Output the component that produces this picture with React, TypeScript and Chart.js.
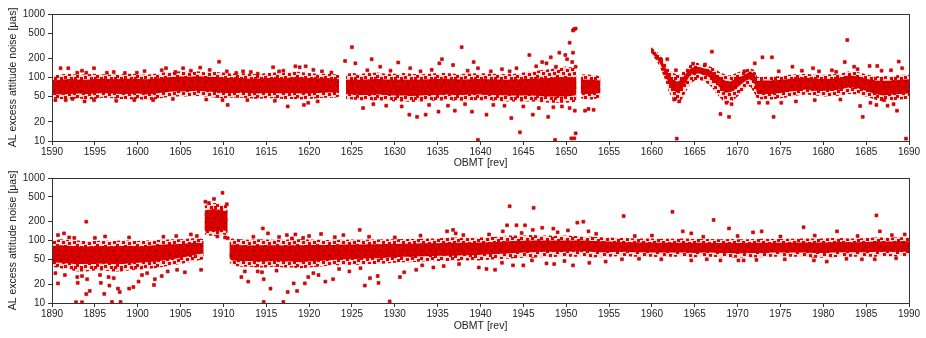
import React, { useEffect, useRef } from 'react';
import { Chart, registerables } from 'chart.js';

Chart.register(...registerables);

// ---------- axis tick values ----------
const yTickValues = [10, 20, 50, 100, 200, 500, 1000];
const topRange = [1590, 1690];
const bottomRange = [1890, 1990];

// ---------- top panel: dense band envelopes (rev, μas) ----------
const topX = [
  1590, 1591, 1592, 1593, 1594, 1595, 1596, 1597, 1598, 1599, 1600, 1601, 1602, 1603, 1604, 1605, 1606,
  1607, 1608, 1609, 1610, 1611, 1612, 1613, 1614, 1615, 1616, 1617, 1618, 1619, 1620, 1621, 1622, 1623,
  1623.5, 1623.9, 1624.3,
  1625, 1626, 1627, 1628, 1629, 1630, 1631, 1632, 1633, 1634, 1635, 1636, 1637, 1638, 1639, 1640, 1641,
  1642, 1643, 1644, 1645, 1646, 1647, 1648, 1649, 1650, 1651,
  1651.2, 1651.45, 1651.7, 1652, 1653, 1654, 1657,
  1659.9, 1660.5,
  1661, 1661.5, 1662, 1662.5, 1663, 1663.5, 1664, 1664.5, 1665, 1665.5, 1666, 1666.5, 1667, 1667.5,
  1668, 1668.5, 1669, 1669.5, 1670, 1670.5, 1671, 1671.5, 1672,
  1672.3,
  1673, 1674, 1675, 1676, 1677, 1678, 1679, 1680, 1681, 1682, 1683, 1684, 1685, 1686, 1687, 1688, 1689, 1690,
];
const topOuterLo = [
  47, 46, 45, 47, 45, 46, 48, 47, 46, 45, 46, 44, 45, 48, 50, 50, 50, 51, 50, 48, 47, 48, 48, 47, 46, 47, 47, 46, 46, 45, 46, 47, 48, 48,
  50, null, 46,
  45, 44, 43, 44, 43, 42, 42, 41, 42, 43, 43, 44, 43, 43, 44, 44, 43, 43, 42, 42, 42, 42, 41, 40, 40, 40, 41,
  45, null, 48, 45, 45, 48, null,
  230, 188,
  140, 95, 58, 45, 40, 45, 60, 80, 90, 92, 88, 80, 70, 56, 47, 40, 40, 44, 50, 58, 68, 72, 55,
  46,
  45, 45, 47, 49, 52, 54, 52, 50, 50, 52, 55, 54, 50, 45, 42, 44, 45, 46,
];
const topCoreLo = [
  55, 54, 55, 56, 55, 56, 57, 56, 55, 55, 56, 54, 56, 58, 60, 60, 61, 62, 60, 59, 57, 57, 58, 57, 56, 57, 57, 56, 57, 56, 56, 57, 58, 58,
  58, null, 55,
  54, 53, 53, 54, 53, 52, 52, 51, 52, 53, 53, 54, 53, 53, 54, 54, 53, 53, 52, 52, 52, 52, 51, 50, 50, 50, 52,
  55, null, 56, 55, 55, 57, null,
  245, 205,
  160, 115, 78, 62, 58, 65, 85, 110, 115, 116, 110, 105, 95, 80, 68, 58, 58, 62, 70, 80, 90, 95, 78,
  55,
  55, 55, 57, 60, 62, 65, 62, 62, 62, 65, 70, 68, 62, 55, 52, 54, 55, 56,
];
const topCoreHi = [
  90, 92, 95, 93, 92, 95, 96, 94, 95, 96, 95, 94, 96, 100, 102, 104, 103, 105, 103, 102, 100, 98, 98, 96, 96, 98, 98, 97, 100, 100, 98, 97, 98, 96,
  94, null, 92,
  93, 92, 94, 95, 93, 92, 93, 92, 93, 94, 95, 95, 94, 93, 94, 95, 94, 93, 92, 93, 95, 96, 97, 98, 100, 102, 100,
  95, null, 92, 93, 92, 90, null,
  280, 240,
  200, 150, 110, 92, 86, 95, 118, 138, 148, 146, 140, 135, 125, 110, 100, 90, 86, 90, 100, 105, 115, 125, 110,
  88,
  90, 90, 92, 95, 98, 100, 96, 95, 95, 100, 108, 105, 96, 90, 88, 90, 92, 94,
];
const topOuterHi = [
  108, 112, 115, 110, 112, 115, 113, 110, 112, 115, 113, 110, 115, 120, 122, 125, 122, 125, 120, 122, 120, 115, 118, 115, 112, 118, 120, 118, 125, 122, 118, 115, 115, 112,
  110, null, 115,
  118, 115, 118, 120, 115, 115, 118, 115, 113, 115, 118, 118, 115, 115, 116, 118, 115, 115, 113, 115, 120, 125, 130, 135, 140, 150, 140,
  120, null, 110, 112, 110, 105, null,
  300, 262,
  225, 180, 135, 118, 110, 120, 140, 162, 172, 168, 160, 155, 145, 132, 120, 112, 108, 112, 120, 128, 135, 140, 130,
  102,
  102, 105, 105, 110, 112, 115, 110, 110, 112, 115, 125, 122, 112, 105, 105, 106, 110, 110,
];

// ---------- top panel: scattered single measurements ----------
const topOutX = [
  1591.0, 1591.9, 1592.95, 1594.9, 1594.0, 1596.4, 1590.4, 1591.6, 1592.4, 1594.9, 1599.6, 1601.8, 1599.9, 1602.8,
  1603.3, 1604.4, 1605.3, 1607.3, 1609.5, 1610.4, 1609.9, 1610.5, 1612.3, 1614.0, 1615.8, 1616.5, 1617.5, 1618.4,
  1618.9, 1619.6, 1619.4, 1619.9, 1620.5,
  1593.5, 1597.2, 1598.5, 1600.8, 1606.2, 1608.4, 1611.5, 1613.2, 1617.0, 1621.5, 1622.6,
  1593.8, 1597.5, 1604.1, 1608.0, 1612.8, 1616.0, 1621.0,
  1624.2, 1625.0, 1625.4, 1627.3, 1628.3, 1630.4, 1631.8, 1635.5, 1635.2, 1637.8, 1636.8, 1639.2, 1639.7, 1643.4,
  1645.7, 1647.2, 1648.2, 1649.2, 1649.9, 1650.1, 1650.4, 1650.8, 1650.9, 1651.1, 1650.8, 1651.1, 1650.7, 1648.8, 1647.7,
  1626.8, 1629.5, 1633.0, 1634.3, 1638.5, 1641.2, 1642.5, 1644.2, 1646.5,
  1627.5, 1629.0, 1630.8, 1634.0, 1636.2, 1638.2, 1641.5, 1642.8, 1645.0, 1646.8, 1649.5,
  1626.3, 1631.7, 1632.6, 1633.6, 1635.1, 1637.0, 1639.0, 1643.6, 1644.6, 1646.1, 1647.9, 1648.5, 1650.4, 1651.0,
  1651.1, 1650.6, 1650.95, 1648.7, 1639.7, 1640.7, 1652.2, 1653.2, 1652.6,
  1667.0, 1672.9, 1674.0, 1682.8, 1682.5, 1688.8, 1668.0, 1669.0, 1674.2, 1684.6, 1684.3, 1688.6, 1662.9, 1689.65,
  1661.8, 1662.8, 1672.0, 1676.4, 1678.8, 1681.5, 1685.4, 1686.3, 1687.9, 1687.1, 1686.2, 1672.5, 1675.1, 1683.6,
  1674.8, 1677.5, 1679.5, 1681.0, 1684.0, 1686.8, 1689.2,
  1673.5, 1676.8, 1679.0, 1682.0, 1685.5, 1687.5, 1688.2,
  1663.2, 1662.6, 1668.7, 1669.3, 1664.8, 1666.2, 1670.8,
];
const topOutY = [
  140, 140, 119, 140, 119, 119, 44, 44, 46, 44, 44, 44, 119, 130,
  140, 122, 140, 143, 177, 125, 44, 37, 125, 115, 145, 125, 35, 150,
  145, 150, 37, 40, 132,
  128, 122, 118, 126, 128, 132, 118, 122, 128, 125, 120,
  42, 43, 46, 45, 44, 43, 42,
  182, 300, 167, 194, 148, 172, 140, 194, 167, 300, 157, 175, 140, 125,
  226, 175, 208, 246, 226, 194, 353, 246, 574, 590, 550, 148, 175, 148, 167,
  130, 128, 125, 132, 128, 125, 135, 140, 150,
  38, 36, 35, 37, 36, 38, 37, 36, 35, 33, 35,
  33, 26, 24, 26, 29, 30, 29, 23, 13.7, 26, 24, 34, 33, 30,
  13.2, 11, 11, 10.4, 10.4, 26, 30, 31, 32,
  255, 208, 208, 389, 175, 178, 26.6, 24, 24, 24, 35.6, 30, 10.9, 10.9,
  194, 130, 167, 148, 140, 123, 152, 152, 130, 44, 37, 40, 40, 148,
  125, 128, 125, 130, 135, 128, 140,
  40, 42, 44, 45, 40, 36, 38,
  42, 45, 40, 38, 165, 160, 125,
];

// ---------- bottom panel: dense band envelopes ----------
const botX = [
  1890, 1891, 1892, 1893, 1894, 1895, 1896, 1897, 1898, 1899, 1900, 1901, 1902, 1903, 1904, 1905, 1906, 1907,
  1907.7, 1907.75, 1907.8, 1908.3, 1909, 1909.5, 1910, 1910.5, 1910.6, 1910.7,
  1911, 1912, 1913, 1914, 1915, 1916, 1917, 1918, 1919, 1920,
  1921, 1922, 1923, 1924, 1925, 1926, 1927, 1928, 1929, 1930,
  1931, 1932, 1933, 1934, 1935, 1936, 1937, 1938, 1939, 1940,
  1941, 1942, 1943, 1944, 1945, 1946, 1947, 1948, 1949, 1950,
  1951, 1952, 1953, 1954, 1955, 1956, 1957, 1958, 1959, 1960,
  1961, 1962, 1963, 1964, 1965, 1966, 1967, 1968, 1969, 1970,
  1971, 1972, 1973, 1974, 1975, 1976, 1977, 1978, 1979, 1980,
  1981, 1982, 1983, 1984, 1985, 1986, 1987, 1988, 1989, 1990,
];
const botOuterLo = [
  38, 36, 34, 32, 32, 33, 33, 32, 32, 33, 34, 35, 36, 38, 40, 42, 45, 48,
  50, null, 125, 120, 118, 120, 125, 120, null, 45,
  40, 38, 38, 37, 37, 38, 37, 37, 36, 37,
  38, 39, 40, 40, 41, 41, 42, 42, 43, 44,
  45, 45, 46, 46, 47, 47, 47, 48, 48, 48,
  49, 50, 51, 52, 53, 53, 54, 54, 55, 55,
  55, 55, 54, 54, 55, 56, 56, 55, 55, 55,
  54, 55, 55, 55, 54, 55, 55, 54, 54, 53,
  54, 54, 54, 55, 55, 55, 55, 54, 53, 53,
  54, 55, 55, 55, 55, 55, 56, 56, 56, 56,
];
const botCoreLo = [
  45, 44, 43, 42, 42, 42, 43, 42, 42, 43, 44, 45, 46, 48, 50, 53, 56, 60,
  62, null, 140, 140, 140, 140, 145, 140, null, 52,
  48, 47, 47, 46, 46, 47, 46, 46, 45, 46,
  47, 48, 49, 50, 50, 51, 52, 52, 53, 54,
  55, 55, 56, 56, 57, 57, 57, 58, 58, 59,
  60, 61, 62, 63, 64, 65, 66, 66, 66, 66,
  67, 67, 66, 65, 65, 66, 66, 65, 65, 64,
  64, 64, 64, 64, 63, 64, 64, 63, 63, 62,
  63, 63, 63, 64, 64, 64, 64, 64, 63, 63,
  64, 65, 65, 65, 65, 66, 66, 66, 66, 66,
];
const botCoreHi = [
  82, 84, 82, 80, 80, 80, 82, 80, 82, 82, 80, 82, 84, 86, 87, 88, 90, 92,
  90, null, 300, 310, 320, 310, 300, 290, null, 85,
  86, 84, 83, 84, 84, 84, 83, 84, 84, 85,
  85, 85, 85, 86, 86, 86, 87, 87, 88, 88,
  89, 89, 90, 90, 90, 92, 92, 92, 92, 93,
  94, 95, 97, 98, 99, 100, 100, 100, 100, 100,
  100, 100, 98, 97, 96, 95, 94, 94, 93, 93,
  92, 92, 92, 92, 92, 92, 91, 91, 92, 91,
  91, 92, 92, 92, 92, 92, 93, 93, 93, 93,
  94, 95, 94, 94, 95, 96, 96, 96, 97, 97,
];
const botOuterHi = [
  100, 105, 102, 100, 98, 98, 100, 98, 100, 100, 98, 100, 102, 103, 105, 105, 108, 110,
  105, null, 360, 380, 400, 380, 370, 360, null, 105,
  108, 105, 103, 105, 104, 103, 103, 105, 105, 104,
  103, 102, 103, 103, 104, 103, 104, 104, 105, 105,
  106, 106, 107, 108, 108, 112, 112, 110, 110, 112,
  114, 115, 120, 120, 120, 122, 120, 120, 118, 120,
  118, 118, 115, 113, 112, 110, 110, 108, 108, 108,
  107, 107, 108, 108, 106, 106, 106, 105, 106, 105,
  105, 106, 107, 106, 106, 107, 108, 108, 108, 108,
  110, 110, 108, 108, 110, 112, 112, 112, 113, 113,
];

// ---------- bottom panel: scattered single measurements ----------
const botOutX = [
  1894.0, 1890.7, 1891.4, 1892.6, 1896.2, 1906.2, 1906.9,
  1892.0, 1895.0, 1899.0, 1903.0, 1904.5,
  1891.5, 1897.2, 1900.5, 1903.5, 1904.6,
  1890.7, 1890.4, 1892.95, 1893.5, 1894.0, 1894.4, 1893.0, 1894.1, 1895.6, 1895.7, 1896.1, 1896.6, 1896.7, 1897.0,
  1898.0, 1897.9, 1897.7, 1899.0, 1899.5, 1900.1, 1901.1, 1901.9, 1902.0, 1892.8, 1893.5, 1902.8, 1905.5, 1907.4,
  1909.9, 1908.9, 1907.9, 1910.4, 1908.3, 1910.2, 1909.3, 1910.5,
  1914.6, 1915.2, 1917.4, 1918.4, 1919.3, 1918.0,
  1912.9, 1914.5, 1914.7, 1915.5, 1914.0, 1917.5, 1917.0, 1918.6, 1918.2, 1919.5, 1919.9, 1920.5, 1921.1, 1912.1,
  1912.5, 1914.7,
  1913.5, 1916.5, 1920.0, 1923.0, 1927.0, 1930.0, 1933.0, 1938.0, 1941.0, 1944.8, 1949.0, 1953.5,
  1916.2, 1923.5, 1926.0, 1933.2, 1937.5, 1942.5, 1946.0, 1949.8,
  1921.4, 1924.0, 1925.9, 1936.1, 1936.8, 1937.1, 1943.4, 1946.2, 1943.1, 1944.2, 1945.2, 1942.6, 1946.1, 1947.2,
  1948.5, 1950.2, 1951.3, 1952.0, 1952.6,
  1921.9, 1922.8, 1924.7, 1926.5, 1927.1, 1928.1, 1928.0, 1929.4, 1930.6, 1931.1, 1932.5, 1934.5, 1935.7, 1939.8,
  1940.7, 1941.7, 1943.8, 1945.0, 1947.7, 1948.6, 1950.8, 1952.7, 1954.6,
  1956.7, 1962.4, 1967.2, 1969.0, 1963.6, 1972.8, 1977.7, 1986.2, 1986.6, 1981.6, 1971.8, 1964.6,
  1958.0, 1960.0, 1966.0, 1970.0, 1975.0, 1979.0, 1984.0, 1988.0, 1989.5,
  1958.5, 1961.1, 1964.6, 1968.0, 1970.1, 1970.7, 1972.2, 1978.9, 1980.4, 1982.7, 1986.0,
  1956.5, 1966.4, 1975.5, 1984.5, 1988.5,
];
const botOutY = [
  200, 122, 130, 110, 116, 125, 118,
  112, 110, 112, 115, 118,
  28, 25, 28, 32, 34,
  20.6, 30, 26, 27, 13.9, 15.6, 21, 24, 28, 21, 14, 26, 19, 10.4,
  10.4, 15, 17, 17, 18, 22, 30, 19.4, 24, 10.3, 10.3, 27, 31, 34,
  580, 462, 418, 380, 398, 112, 116, 109,
  156, 130, 122, 125, 110, 108,
  22, 31, 24, 17, 32, 15, 10.4, 15.6, 20.6, 20.6, 26, 30, 28, 26,
  32, 10.4,
  115, 114, 118, 113, 115, 112, 120, 122, 125, 132, 135, 128,
  33, 35, 36, 40, 42, 44, 48, 47,
  127, 122, 148, 140, 148, 130, 353, 333, 175, 175, 175, 140, 148, 160,
  155, 145, 193, 200, 140,
  22, 24, 32, 19, 25, 21, 27, 10.6, 26, 31, 34, 37, 39, 37,
  35, 34, 40, 40, 43, 42, 40, 44, 46,
  246, 288, 213, 156, 140, 140, 163, 252, 140, 140, 135, 130,
  118, 120, 115, 118, 116, 120, 118, 122, 125,
  51, 50, 48, 48, 48, 48, 49, 48, 46, 51, 50,
  50, 50, 50, 50, 52,
];

const FONT = "'Liberation Sans', Arial, sans-serif";
const INK = '#222222';
const AXIS = '#333333';

function makePattern(
  ctx: CanvasRenderingContext2D,
  size: number,
  base: string | null,
  dotColor: string,
  dots: number[][],
  dotSize: number,
) {
  const c = document.createElement('canvas');
  c.width = size;
  c.height = size;
  const g = c.getContext('2d')!;
  if (base) {
    g.fillStyle = base;
    g.fillRect(0, 0, size, size);
  }
  g.fillStyle = dotColor;
  dots.forEach(([x, y]) => g.fillRect(x, y, dotSize, dotSize));
  return ctx.createPattern(c, 'repeat')!;
}

const pts = (xs: number[], ys: (number | null)[]) => xs.map((x, i) => ({ x, y: ys[i] }));

const al = (p: number) => Math.round(p - 0.5) + 0.5;

const framePlugin = {
  id: 'frame',
  afterDatasetsDraw(chart: any) {
    const { ctx, chartArea: a } = chart;
    ctx.save();
    ctx.strokeStyle = AXIS;
    ctx.lineWidth = 1;
    const l = al(a.left), r = al(a.right), t = al(a.top), b = al(a.bottom);
    ctx.strokeRect(l, t, r - l, b - t);
    ctx.restore();
  },
};

interface PanelData {
  x: number[];
  oLo: (number | null)[];
  cLo: (number | null)[];
  cHi: (number | null)[];
  oHi: (number | null)[];
  outX: number[];
  outY: number[];
  range: number[];
  padTop: number;
  padBottom: number;
  xHeight: number;
}

function buildConfig(canvas: HTMLCanvasElement, p: PanelData): any {
  const ctx = canvas.getContext('2d')!;
  // speckled texture for the sparse fringe of the band
  const outerPat = makePattern(ctx, 20, 'rgba(235,0,0,0.14)', '#e00000',
    [[0, 0], [6, 1], [12, 0], [16, 2], [3, 4], [9, 5], [14, 6], [0, 8], [6, 9], [11, 8],
     [17, 10], [2, 12], [8, 13], [13, 12], [16, 15], [4, 16], [10, 17], [0, 17], [14, 17]], 3);
  // dense core: red with darker overlaps
  const corePat = makePattern(ctx, 14, '#da0000', '#ad0000',
    [[1, 1], [7, 2], [11, 6], [4, 6], [9, 10], [1, 11]], 2);
  const band = (data: any[], fill: any, bg: any, order: number) => ({
    type: 'line',
    data,
    fill,
    backgroundColor: bg,
    borderColor: 'rgba(0,0,0,0)',
    borderWidth: 0,
    pointRadius: 0,
    tension: 0,
    spanGaps: false,
    order,
  });
  return {
    type: 'line',
    data: {
      datasets: [
        band(pts(p.x, p.oLo), false, 'rgba(0,0,0,0)', 3),
        band(pts(p.x, p.oHi), '-1', outerPat, 3),
        band(pts(p.x, p.cLo), false, 'rgba(0,0,0,0)', 2),
        band(pts(p.x, p.cHi), '-1', corePat, 2),
        {
          type: 'scatter',
          data: pts(p.outX, p.outY),
          pointStyle: 'rect',
          pointRadius: 2.1,
          backgroundColor: '#e40000',
          borderColor: '#b00000',
          borderWidth: 0.6,
          order: 0,
        },
      ],
    },
    options: {
      animation: false,
      responsive: false,
      events: [],
      layout: { padding: { top: p.padTop, right: 17, left: 0, bottom: p.padBottom } },
      plugins: { legend: { display: false }, tooltip: { enabled: false } },
      scales: {
        x: {
          type: 'linear',
          min: p.range[0],
          max: p.range[1],
          afterFit: (s: any) => { s.height = p.xHeight; },
          ticks: {
            stepSize: 5,
            autoSkip: false,
            maxRotation: 0,
            callback: (v: any) => String(v),
            font: { family: FONT, size: 10 },
            color: INK,
            padding: 1,
          },
          grid: { display: true, drawOnChartArea: false, drawTicks: true, tickLength: 4, color: AXIS },
          border: { display: true, color: AXIS, width: 1 },
          title: {
            display: true,
            text: 'OBMT [rev]',
            font: { family: FONT, size: 10.5 },
            color: INK,
            padding: { top: 0, bottom: 0 },
          },
        },
        y: {
          type: 'logarithmic',
          min: 10,
          max: 1000,
          afterBuildTicks: (s: any) => { s.ticks = yTickValues.map((v) => ({ value: v })); },
          afterFit: (s: any) => { s.width = 52; },
          ticks: {
            autoSkip: false,
            callback: (v: any) => String(v),
            font: { family: FONT, size: 10 },
            color: INK,
            padding: 3,
          },
          grid: { display: true, drawOnChartArea: false, drawTicks: true, tickLength: 4, color: AXIS },
          border: { display: true, color: AXIS, width: 1 },
          title: {
            display: true,
            text: 'AL excess attitude noise [μas]',
            font: { family: FONT, size: 10.5 },
            color: INK,
            padding: { top: 7, bottom: 0 },
          },
        },
      },
    },
    plugins: [framePlugin],
  };
}

export default function App() {
  const topRef = useRef<HTMLCanvasElement>(null);
  const botRef = useRef<HTMLCanvasElement>(null);

  useEffect(() => {
    document.body.style.margin = '0';
    const c1 = new Chart(topRef.current!, buildConfig(topRef.current!, {
      x: topX, oLo: topOuterLo, cLo: topCoreLo, cHi: topCoreHi, oHi: topOuterHi,
      outX: topOutX, outY: topOutY, range: topRange, padTop: 14, padBottom: 0, xHeight: 28,
    }));
    const c2 = new Chart(botRef.current!, buildConfig(botRef.current!, {
      x: botX, oLo: botOuterLo, cLo: botCoreLo, cHi: botCoreHi, oHi: botOuterHi,
      outX: botOutX, outY: botOutY, range: bottomRange, padTop: 7, padBottom: 6, xHeight: 29,
    }));
    return () => {
      c1.destroy();
      c2.destroy();
    };
  }, []);

  return (
    <div style={{ position: 'relative', width: 926, height: 338, background: '#fff' }}>
      <canvas ref={topRef} width={926} height={169} style={{ position: 'absolute', left: 0, top: 0, display: 'block' }} />
      <canvas ref={botRef} width={926} height={169} style={{ position: 'absolute', left: 0, top: 169, display: 'block' }} />
    </div>
  );
}
